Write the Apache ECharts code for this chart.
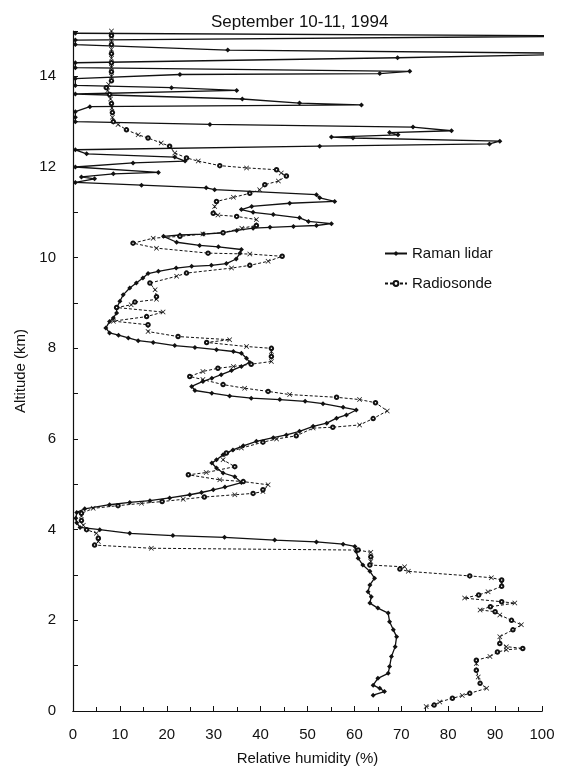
<!DOCTYPE html>
<html>
<head>
<meta charset="utf-8">
<script src="https://cdn.jsdelivr.net/npm/echarts@6/dist/echarts.min.js"></script>
<style>
  html, body { margin: 0; padding: 0; background: #fff; }
  #chart { width: 561px; height: 779px; }
</style>
</head>
<body>
<div id="chart"></div>
<script>
// Raman lidar profile (altitude km, relative humidity %), bottom to top
const lidarAlt = [0.35, 0.43, 0.50, 0.57, 0.72, 0.83, 0.98, 1.20, 1.42, 1.64, 1.79, 1.97, 2.16, 2.27, 2.38, 2.52, 2.63, 2.78, 2.93, 3.08,
  3.22, 3.37, 3.52, 3.63, 3.68, 3.73, 3.77, 3.83, 3.87, 3.92, 4.00, 4.05, 4.15, 4.25, 4.38, 4.46, 4.55, 4.60, 4.64, 4.70,
  4.77, 4.82, 4.88, 4.94, 5.04, 5.17, 5.25, 5.36, 5.47, 5.54, 5.65, 5.76, 5.85, 5.95, 6.03, 6.09, 6.17, 6.28, 6.35, 6.46,
  6.53, 6.64, 6.70, 6.78, 6.83, 6.87, 6.90, 6.95, 7.01, 7.07, 7.16, 7.27, 7.34, 7.42, 7.51, 7.60, 7.69, 7.78, 7.89, 7.93,
  7.97, 8.02, 8.06, 8.13, 8.17, 8.23, 8.29, 8.34, 8.45, 8.59, 8.67, 8.78, 8.89, 9.04, 9.18, 9.33, 9.44, 9.55, 9.65, 9.70,
  9.77, 9.81, 9.83, 9.87, 9.97, 10.10, 10.18, 10.24, 10.27, 10.34, 10.47, 10.50, 10.52, 10.55, 10.60, 10.65, 10.67, 10.69, 10.71, 10.75,
  10.80, 10.88, 10.95, 11.00, 11.06, 11.13, 11.20, 11.24, 11.32, 11.39, 11.50, 11.54, 11.60, 11.66, 11.74, 11.78, 11.85, 11.88, 12.00, 12.09,
  12.13, 12.22, 12.29, 12.38, 12.46, 12.51, 12.57, 12.64, 12.66, 12.71, 12.76, 12.80, 12.88, 12.94, 13.00, 13.10, 13.22, 13.33, 13.37, 13.41,
  13.50, 13.61, 13.69, 13.75, 13.80, 13.95, 14.04, 14.06, 14.11, 14.19, 14.30, 14.41, 14.50, 14.58, 14.70, 14.80, 14.89, 14.95];
const lidarRH = [64.0, 66.4, 65.4, 64.0, 65.0, 67.2, 67.5, 67.9, 68.7, 69.0, 68.3, 67.5, 67.2, 65.0, 63.3, 63.6, 62.9, 63.3, 64.3, 63.3,
  61.8, 60.8, 60.4, 60.1, 57.6, 51.9, 43.0, 32.3, 21.3, 12.1, 5.7, 1.5, 0.8, 0.6, 0.8, 2.5, 7.8, 12.1, 16.4, 20.6,
  24.9, 27.4, 29.9, 32.4, 35.9, 34.5, 32.0, 30.6, 29.6, 30.6, 32.0, 34.1, 36.3, 39.1, 42.7, 45.5, 48.3, 51.2, 54.1, 56.2,
  58.3, 60.4, 57.6, 53.3, 49.5, 44.1, 38.0, 33.4, 29.6, 26.0, 25.3, 27.7, 29.6, 31.6, 33.8, 35.9, 37.7, 37.0, 35.9, 34.2,
  30.6, 26.0, 21.7, 17.1, 13.9, 11.8, 9.7, 7.8, 7.0, 7.8, 8.6, 9.3, 9.3, 10.0, 10.7, 12.1, 13.5, 14.9, 16.0, 18.2,
  22.0, 25.3, 29.5, 32.7, 34.8, 35.6, 35.9, 31.0, 27.0, 22.1, 19.3, 22.8, 27.8, 32.0, 34.9, 38.4, 42.0, 47.0, 51.9, 55.1,
  50.2, 48.3, 42.7, 38.4, 35.9, 38.1, 46.2, 55.8, 52.6, 51.9, 30.2, 28.4, 14.6, 0.5, 4.6, 1.8, 8.6, 18.2, 0.5, 12.8,
  23.9, 21.7, 2.9, 0.5, 52.6, 88.8, 91.0, 59.7, 55.1, 69.3, 67.5, 80.7, 72.5, 29.2, 0.5, 0.5, 0.5, 3.6, 61.5, 48.3,
  36.1, 0.5, 34.9, 21.0, 0.5, 0.5, 22.8, 65.4, 71.8, 0.5, 0.5, 69.2, 115, 33.0, 0.5, 0.5, 115, 0.5];

// Radiosonde profile (altitude km, relative humidity %)
const sondeAlt = [0.10, 0.13, 0.20, 0.28, 0.34, 0.39, 0.50, 0.61, 0.75, 0.90, 1.05, 1.12, 1.20, 1.30, 1.35, 1.38, 1.42, 1.49, 1.64, 1.79,
  1.90, 2.00, 2.12, 2.19, 2.23, 2.30, 2.38, 2.41, 2.49, 2.56, 2.63, 2.75, 2.82, 2.89, 2.94, 2.98, 3.08, 3.13, 3.18, 3.22,
  3.30, 3.40, 3.50, 3.55, 3.59, 3.66, 3.74, 3.81, 3.92, 4.00, 4.10, 4.20, 4.30, 4.36, 4.47, 4.53, 4.58, 4.62, 4.67, 4.72,
  4.77, 4.80, 4.84, 4.88, 4.99, 5.06, 5.10, 5.21, 5.26, 5.39, 5.54, 5.69, 5.80, 5.93, 6.00, 6.07, 6.24, 6.26, 6.31, 6.45,
  6.62, 6.80, 6.87, 6.92, 6.98, 7.05, 7.12, 7.20, 7.31, 7.38, 7.49, 7.56, 7.60, 7.65, 7.71, 7.82, 7.93, 8.00, 8.04, 8.13,
  8.19, 8.26, 8.37, 8.52, 8.60, 8.70, 8.80, 8.90, 8.96, 9.02, 9.08, 9.14, 9.29, 9.44, 9.59, 9.66, 9.77, 9.83, 9.92, 10.03,
  10.08, 10.10, 10.21, 10.32, 10.43, 10.47, 10.52, 10.55, 10.65, 10.71, 10.84, 10.91, 10.94, 10.98, 11.13, 11.24, 11.33, 11.42, 11.50, 11.61,
  11.69, 11.80, 11.87, 11.94, 11.98, 12.03, 12.13, 12.20, 12.31, 12.46, 12.53, 12.64, 12.71, 12.82, 12.94, 13.00, 13.10, 13.20, 13.30, 13.40,
  13.50, 13.60, 13.68, 13.75, 13.82, 13.90, 14.00, 14.10, 14.20, 14.30, 14.40, 14.50, 14.60, 14.70, 14.80, 14.90, 15.00];
const sondeRH = [75.3, 77.0, 78.2, 80.9, 83.0, 84.6, 88.2, 86.8, 86.4, 86.0, 86.0, 86.0, 88.9, 90.5, 92.4, 95.9, 92.4, 91.0, 91.0, 93.8,
  95.6, 93.5, 91.0, 90.0, 86.8, 89.0, 94.2, 91.4, 83.5, 86.5, 88.5, 91.4, 91.4, 91.4, 89.2, 84.6, 71.5, 69.7, 70.7, 63.3,
  63.5, 63.5, 63.5, 60.8, 16.7, 4.6, 5.4, 5.4, 5.0, 2.9, 2.2, 1.8, 1.8, 1.8, 4.3, 9.6, 14.6, 19.0, 23.5, 28.0,
  34.5, 38.4, 40.5, 40.5, 41.6, 36.3, 31.3, 24.6, 28.4, 34.5, 32.0, 32.7, 35.9, 40.5, 43.4, 47.6, 51.2, 55.4, 61.1, 64.0,
  67.0, 64.5, 61.1, 56.2, 46.2, 41.6, 36.6, 32.0, 27.7, 24.9, 27.7, 30.9, 34.2, 38.0, 42.3, 42.3, 42.3, 42.3, 37.0, 28.5,
  33.4, 22.4, 16.0, 16.0, 8.6, 15.7, 19.2, 9.3, 12.4, 13.2, 17.8, 17.8, 17.5, 16.4, 22.1, 24.2, 33.8, 37.7, 41.6, 44.6,
  37.7, 28.8, 17.8, 12.8, 17.1, 22.8, 27.7, 32.0, 36.0, 39.1, 39.1, 34.9, 30.9, 29.9, 30.2, 30.6, 34.2, 37.7, 39.8, 40.9,
  43.8, 45.5, 44.4, 43.4, 37.0, 31.3, 26.7, 24.2, 21.7, 20.6, 18.8, 16.0, 13.9, 11.4, 9.6, 8.6, 8.4, 8.4, 8.3, 8.2,
  8.0, 7.8, 7.4, 7.1, 7.6, 8.2, 8.2, 8.2, 8.2, 8.2, 8.2, 8.2, 8.2, 8.2, 8.2, 8.2, 8.2];

const xTicks = [0, 10, 20, 30, 40, 50, 60, 70, 80, 90, 100];
const yTicks = [0, 2, 4, 6, 8, 10, 12, 14];

const chart = echarts.init(document.getElementById('chart'));
const FONT = 'Liberation Sans';
const crossPath = 'path://M0,1L1,0L5,4L9,0L10,1L6,5L10,9L9,10L5,6L1,10L0,9L4,5Z';

const lidarData = lidarAlt.map(function (a, i) { return [lidarRH[i], a]; });
const sondeData = sondeAlt.map(function (a, i) {
    // radiosonde marks alternate between crosses and open circles
    if (i % 2 === 0) {
        return { value: [sondeRH[i], a], symbol: crossPath, symbolSize: 5 };
    }
    return [sondeRH[i], a];
});

const option = {
    animation: false,
    backgroundColor: '#fff',
    title: {
        text: 'September 10-11, 1994',
        left: 206,
        top: 9,
        textStyle: { fontFamily: FONT, fontSize: 17, fontWeight: 'normal', color: '#111' }
    },
    legend: {
        left: 379,
        top: 241,
        orient: 'vertical',
        itemGap: 15,
        itemWidth: 22,
        itemHeight: 6,
        textStyle: { fontFamily: FONT, fontSize: 15, color: '#111' },
        data: ['Raman lidar', 'Radiosonde']
    },
    grid: { left: 73, right: 19, top: 31, bottom: 68 },
    xAxis: [{
        type: 'value',
        min: 0, max: 100, interval: 10,
        name: 'Relative humidity (%)',
        nameLocation: 'middle',
        nameGap: 40,
        nameTextStyle: { fontFamily: FONT, fontSize: 15, color: '#111' },
        axisLine: { lineStyle: { color: '#111', width: 1.2 } },
        axisTick: { inside: true, length: 5, lineStyle: { color: '#111' } },
        minorTick: { show: true, splitNumber: 2, length: 4, lineStyle: { color: '#111' } },
        axisLabel: {
            fontFamily: FONT, fontSize: 15, color: '#111', margin: 16,
            formatter: function (v) { return xTicks.indexOf(v) >= 0 ? String(v) : ''; }
        },
        splitLine: { show: false }
    }, {
        type: 'value', position: 'top',
        min: 0, max: 100,
        axisLine: { lineStyle: { color: '#111', type: 'dotted' } },
        axisTick: { show: false },
        axisLabel: { show: false },
        splitLine: { show: false }
    }],
    yAxis: [{
        type: 'value',
        min: 0, max: 15, interval: 2,
        name: 'Altitude (km)',
        nameLocation: 'middle',
        nameGap: 44,
        nameTextStyle: { fontFamily: FONT, fontSize: 15, color: '#111' },
        axisLine: { show: true, lineStyle: { color: '#111', width: 1.2 } },
        axisTick: { inside: true, length: 5, lineStyle: { color: '#111' } },
        minorTick: { show: true, splitNumber: 2, length: 5, lineStyle: { color: '#111' } },
        axisLabel: {
            fontFamily: FONT, fontSize: 15, color: '#111', margin: 17,
            formatter: function (v) { return yTicks.indexOf(v) >= 0 ? String(v) : ''; }
        },
        splitLine: { show: false }
    }, {
        type: 'value', position: 'right',
        min: 0, max: 15,
        axisLine: { show: true, lineStyle: { color: '#111', type: 'dotted' } },
        axisTick: { show: false },
        axisLabel: { show: false },
        splitLine: { show: false }
    }],
    series: [{
        name: 'Raman lidar',
        type: 'line',
        data: lidarData,
        symbol: 'diamond',
        symbolSize: 5,
        showAllSymbol: true,
        clip: true,
        itemStyle: { color: '#111' },
        lineStyle: { color: '#111', width: 1.3 }
    }, {
        name: 'Radiosonde',
        type: 'line',
        data: sondeData,
        symbol: 'emptyCircle',
        symbolSize: 3.5,
        showAllSymbol: true,
        clip: true,
        itemStyle: { color: '#111', borderWidth: 1 },
        lineStyle: { color: '#111', width: 1, type: [3, 2] }
    }]
};

chart.setOption(option);
</script>
</body>
</html>
